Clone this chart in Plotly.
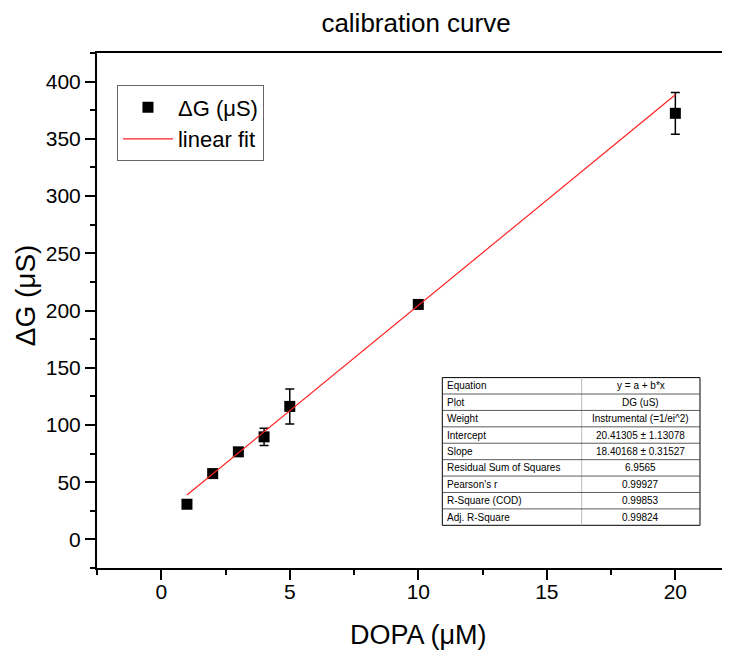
import plotly.graph_objects as go

# ---- data ----
dopa_uM = [1, 2, 3, 4, 5, 10, 20]
delta_g_uS = [30.7, 57.5, 76.5, 89.6, 116.2, 205.3, 372.3]
delta_g_err = [2.0, 2.5, 3.0, 7.6, 15.3, 3.0, 18.2]

fit_intercept = 20.41305
fit_slope = 18.40168
fit_x = [1, 20]
fit_y = [fit_intercept + fit_slope * v for v in fit_x]

table_labels = ["Equation", "Plot", "Weight", "Intercept", "Slope",
                "Residual Sum of Squares", "Pearson's r", "R-Square (COD)", "Adj. R-Square"]
table_values = ["y = a + b*x", "DG (uS)", "Instrumental (=1/ei^2)",
                "20.41305 ± 1.13078", "18.40168 ± 0.31527", "6.9565",
                "0.99927", "0.99853", "0.99824"]

x_ticks = [0, 5, 10, 15, 20]
y_ticks = [0, 50, 100, 150, 200, 250, 300, 350, 400]

FONT = "Arial, Liberation Sans, sans-serif"

fig = go.Figure()
fig.add_trace(go.Scatter(
    x=dopa_uM, y=delta_g_uS, mode="markers", name="ΔG (μS)",
    marker=dict(symbol="square", size=11, color="black"),
    error_y=dict(type="data", array=delta_g_err, visible=True,
                 color="black", thickness=1.5, width=4.5),
))
fig.add_trace(go.Scatter(
    x=fit_x, y=fit_y, mode="lines", name="linear fit",
    line=dict(color="#ff2020", width=1.2),
))

# ---- stats table (shapes + annotations in paper coords) ----
tx0, tx1, tdiv = 0.5256, 0.9178, 0.7377
ty_top, ty_bot = 0.3697, 0.0829
n = len(table_labels)
rh = (ty_top - ty_bot) / n
shapes = [dict(type="rect", xref="paper", yref="paper", x0=tx0, x1=tx1, y0=ty_bot, y1=ty_top,
               line=dict(color="black", width=1), fillcolor="white", layer="above")]
shapes.append(dict(type="line", xref="paper", yref="paper", x0=tdiv, x1=tdiv, y0=ty_bot, y1=ty_top,
                   line=dict(color="#bbbbbb", width=1), layer="above"))
for i in range(1, n):
    yy = ty_top - i * rh
    shapes.append(dict(type="line", xref="paper", yref="paper", x0=tx0, x1=tx1, y0=yy, y1=yy,
                       line=dict(color="#333333", width=0.8), layer="above"))
annotations = []
for i, (lab, val) in enumerate(zip(table_labels, table_values)):
    yc = ty_top - (i + 0.5) * rh
    annotations.append(dict(xref="paper", yref="paper", x=tx0 + 0.004, y=yc, text=lab,
                            showarrow=False, xanchor="left", yanchor="middle",
                            font=dict(family=FONT, size=10, color="black")))
    annotations.append(dict(xref="paper", yref="paper", x=(tdiv + tx1) / 2, y=yc, text=val,
                            showarrow=False, xanchor="center", yanchor="middle",
                            font=dict(family=FONT, size=10, color="black")))

# axis titles placed as annotations
annotations.append(dict(xref="paper", yref="paper", x=0.4886, y=-0.1307, text="DOPA (μM)",
                        showarrow=False, xanchor="center", yanchor="middle",
                        font=dict(family=FONT, size=27, color="black")))
annotations.append(dict(xref="paper", yref="paper", x=-0.1096, y=0.5295, text="ΔG (μS)",
                        showarrow=False, xanchor="center", yanchor="middle", textangle=-90,
                        font=dict(family=FONT, size=28, color="black")))

# page body has an 8px default margin: offset the figure content to compensate;
# the plot frame runs past the right edge of the picture, as in the reference
fig.update_layout(
    width=746, height=653,
    margin=dict(l=89, r=0, t=45, b=93, autoexpand=False),
    paper_bgcolor="white", plot_bgcolor="white",
    font=dict(family=FONT, color="black"),
    title=dict(text="calibration curve", x=0.4856, xref="paper", xanchor="center",
               y=1 - 15 / 653, yref="container", yanchor="middle",
               font=dict(size=26, family=FONT, color="black")),
    showlegend=True,
    legend=dict(x=0.0304, y=0.937, xanchor="left", yanchor="top",
                bordercolor="#666666", borderwidth=1, bgcolor="white",
                font=dict(size=22, family=FONT, color="black"), itemwidth=50),
    shapes=shapes, annotations=annotations,
)
fig.update_xaxes(
    range=[-2.5, 23.06], tickvals=x_ticks, ticks="outside", ticklen=10, tickwidth=1.5,
    tickcolor="black", showline=True, linecolor="black", linewidth=2, mirror=True,
    showgrid=False, zeroline=False, tickfont=dict(size=21, family=FONT, color="black"),
    automargin=False, ticklabelstandoff=-6,
    minor=dict(tickvals=[-2.5, 2.5, 7.5, 12.5, 17.5], ticks="outside", ticklen=5, tickwidth=1.5,
               tickcolor="black", showgrid=False),
)
fig.update_yaxes(
    range=[-25, 425], tickvals=y_ticks, ticks="outside", ticklen=10, tickwidth=1.5,
    tickcolor="black", showline=True, linecolor="black", linewidth=2,
    showgrid=False, zeroline=False, tickfont=dict(size=21, family=FONT, color="black"),
    automargin=False,
    minor=dict(dtick=25, tick0=0, ticks="outside", ticklen=5, tickwidth=1.5, tickcolor="black", showgrid=False),
)

fig.write_html("out.html")
